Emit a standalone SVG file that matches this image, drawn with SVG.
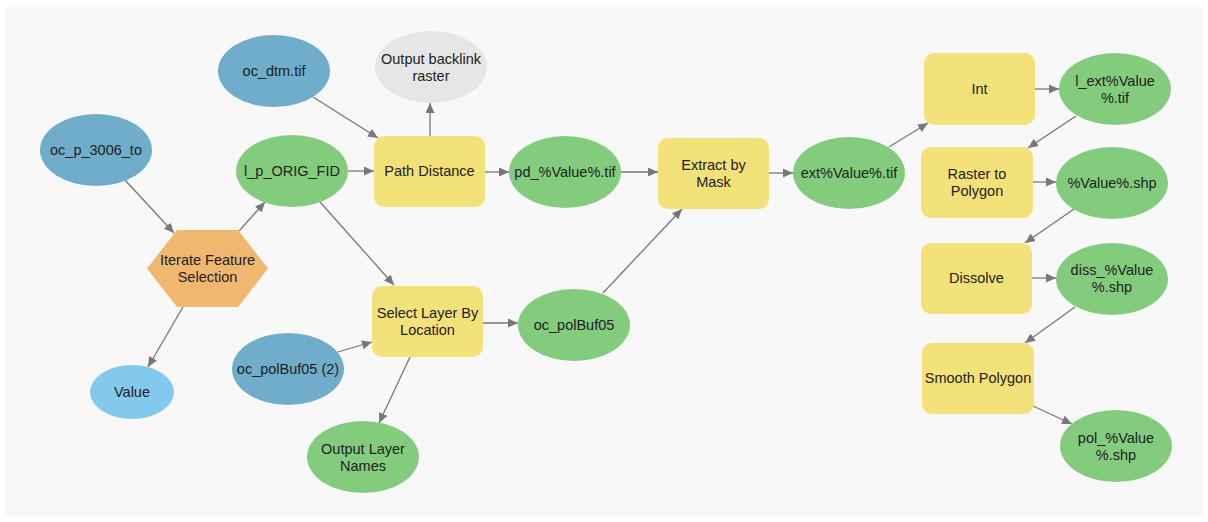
<svg xmlns="http://www.w3.org/2000/svg" width="1208" height="522" viewBox="0 0 1208 522">
<style>
text{font-family:"Liberation Sans",Arial,sans-serif;font-size:14.5px;fill:#222;text-anchor:middle}
.blue{fill:#6fadca}
.green{fill:#83cc7d}
.tool{fill:#f3e17a}
.gray{fill:#e6e6e6}
.lblue{fill:#82c9ed}
.iter{fill:#f0b770}
.edge{stroke:#777;stroke-width:1.3;fill:none;marker-end:url(#arr)}
</style>
<defs>
<marker id="arr" markerUnits="userSpaceOnUse" markerWidth="11" markerHeight="10" refX="10" refY="4.5" orient="auto">
<path d="M0,0 L10,4.5 L0,9 z" fill="#777"/>
</marker>
</defs>
<rect x="0" y="0" width="1208" height="522" fill="#ffffff"/>
<rect x="5" y="7" width="1198" height="510" fill="#f8f8f8"/>
<g id="connectors">
<line class="edge" x1="125" y1="180" x2="174" y2="233"/>
<line class="edge" x1="239" y1="231" x2="265" y2="202"/>
<line class="edge" x1="183" y1="307" x2="148" y2="367"/>
<line class="edge" x1="313" y1="97" x2="378" y2="138"/>
<line class="edge" x1="348" y1="171" x2="374" y2="171"/>
<line class="edge" x1="320" y1="202" x2="394" y2="285"/>
<line class="edge" x1="430" y1="136" x2="430" y2="103"/>
<line class="edge" x1="485" y1="172" x2="509" y2="172"/>
<line class="edge" x1="621" y1="172" x2="658" y2="172"/>
<line class="edge" x1="338" y1="352" x2="372" y2="342"/>
<line class="edge" x1="410" y1="357" x2="379" y2="423"/>
<line class="edge" x1="483" y1="323" x2="518" y2="323"/>
<line class="edge" x1="603" y1="293" x2="682" y2="209"/>
<line class="edge" x1="769" y1="173" x2="793" y2="173"/>
<line class="edge" x1="889" y1="147" x2="928" y2="123"/>
<line class="edge" x1="1035" y1="89" x2="1059" y2="89"/>
<line class="edge" x1="1076" y1="116" x2="1028" y2="148"/>
<line class="edge" x1="1033" y1="182" x2="1056" y2="182"/>
<line class="edge" x1="1074" y1="209" x2="1025" y2="243"/>
<line class="edge" x1="1032" y1="278" x2="1056" y2="278"/>
<line class="edge" x1="1075" y1="307" x2="1025" y2="343"/>
<line class="edge" x1="1033" y1="406" x2="1072" y2="424"/>
</g>
<g id="oc_dtm"><ellipse class="blue" cx="274" cy="71" rx="56" ry="36"/><text x="274" y="76">oc_dtm.tif</text></g>
<g id="oc_p_3006_to"><ellipse class="blue" cx="96" cy="150" rx="56" ry="36"/><text x="96" y="155">oc_p_3006_to</text></g>
<g id="l_p_ORIG_FID"><ellipse class="green" cx="292" cy="171" rx="56" ry="36"/><text x="292" y="176">l_p_ORIG_FID</text></g>
<g id="iterate"><polygon class="iter" points="147,268.5 177,230 238,230 268,268.5 238,307 177,307"/><text x="207.5" y="265">Iterate Feature</text><text x="207.5" y="282">Selection</text></g>
<g id="value"><ellipse class="lblue" cx="132" cy="392" rx="42" ry="27"/><text x="132" y="397">Value</text></g>
<g id="output_backlink"><ellipse class="gray" cx="431" cy="67" rx="56" ry="36"/><text x="431" y="64">Output backlink</text><text x="431" y="81">raster</text></g>
<g id="path_distance"><rect class="tool" x="374" y="136" width="111" height="71" rx="10"/><text x="429.5" y="176">Path Distance</text></g>
<g id="pd_value"><ellipse class="green" cx="565" cy="172" rx="56" ry="36"/><text x="565" y="177">pd_%Value%.tif</text></g>
<g id="extract_by_mask"><rect class="tool" x="658" y="138" width="111" height="71" rx="10"/><text x="713.5" y="170">Extract by</text><text x="713.5" y="187">Mask</text></g>
<g id="oc_polBuf05_2"><ellipse class="blue" cx="288" cy="369" rx="56" ry="36"/><text x="288" y="374">oc_polBuf05 (2)</text></g>
<g id="select_layer"><rect class="tool" x="372" y="286" width="111" height="71" rx="10"/><text x="427.5" y="318">Select Layer By</text><text x="427.5" y="335">Location</text></g>
<g id="output_layer_names"><ellipse class="green" cx="363" cy="457" rx="56" ry="36"/><text x="363" y="454">Output Layer</text><text x="363" y="471">Names</text></g>
<g id="oc_polBuf05"><ellipse class="green" cx="574" cy="325" rx="56" ry="36"/><text x="574" y="330">oc_polBuf05</text></g>
<g id="ext_value"><ellipse class="green" cx="849" cy="173" rx="56" ry="36"/><text x="849" y="178">ext%Value%.tif</text></g>
<g id="int"><rect class="tool" x="924" y="53" width="111" height="72" rx="10"/><text x="979.5" y="94">Int</text></g>
<g id="l_ext_value"><ellipse class="green" cx="1115" cy="89" rx="56" ry="36"/><text x="1115" y="86">l_ext%Value</text><text x="1115" y="103">%.tif</text></g>
<g id="raster_to_polygon"><rect class="tool" x="921" y="147" width="112" height="71" rx="10"/><text x="977" y="179">Raster to</text><text x="977" y="196">Polygon</text></g>
<g id="value_shp"><ellipse class="green" cx="1112" cy="183" rx="56" ry="36"/><text x="1112" y="188">%Value%.shp</text></g>
<g id="dissolve"><rect class="tool" x="921" y="243" width="111" height="71" rx="10"/><text x="976.5" y="283">Dissolve</text></g>
<g id="diss_value"><ellipse class="green" cx="1112" cy="279" rx="56" ry="36"/><text x="1112" y="275">diss_%Value</text><text x="1112" y="292">%.shp</text></g>
<g id="smooth_polygon"><rect class="tool" x="922" y="343" width="112" height="71" rx="10"/><text x="978" y="383">Smooth Polygon</text></g>
<g id="pol_value"><ellipse class="green" cx="1116" cy="446" rx="56" ry="36"/><text x="1116" y="443">pol_%Value</text><text x="1116" y="460">%.shp</text></g>
</svg>
